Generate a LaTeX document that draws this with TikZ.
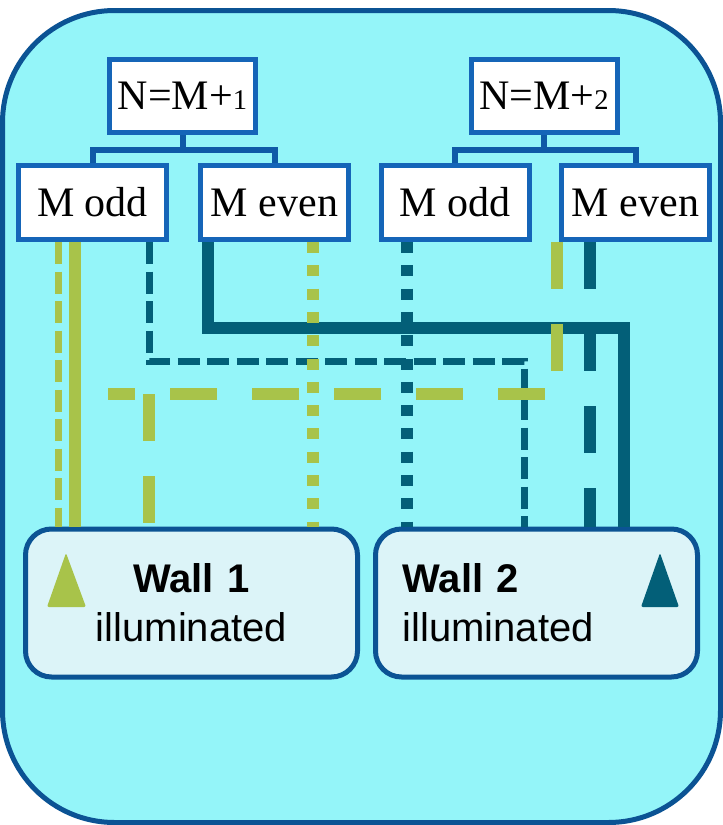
\documentclass[tikz,border=0pt]{standalone}
\usepackage{fontspec}
\setmainfont{Liberation Serif}
\setsansfont{Liberation Sans}
\usepackage{graphicx}
\usepackage{xcolor}

\definecolor{panel}{HTML}{94F5F9}
\definecolor{panelrim}{HTML}{0B5394}
\definecolor{boxrim}{HTML}{1565B8}
\definecolor{treeblue}{HTML}{0E5AA7}
\definecolor{wallfill}{HTML}{DCF4F8}
\definecolor{lime}{HTML}{A8C34A}
\definecolor{petrol}{HTML}{035F78}

% old-style figure: lining digit shrunk to x-height
\newcommand{\osf}[1]{\scalebox{0.68}{#1}}

\tikzset{
  casebox/.style={draw=boxrim, line width=5pt, fill=white, inner sep=0pt,
    minimum width=146pt, minimum height=73pt, font=\fontsize{42}{46}\selectfont},
  parity/.style={casebox, minimum width=148pt, minimum height=74pt},
  tree/.style={draw=treeblue, line width=6pt},
  wallbox/.style={draw=panelrim, line width=5pt, fill=wallfill, rounded corners=26pt,
    minimum height=148pt, inner xsep=27pt, inner ysep=0pt,
    font=\sffamily\fontsize{40}{49}\selectfont},
  solidline/.style={line width=12pt},
  thindash/.style={line width=7pt, dash pattern=on 22pt off 7.5pt},
  dotline/.style={line width=12pt, dash pattern=on 11pt off 12.3pt},
  longdash/.style={line width=12pt, dash pattern=on 47pt off 35pt},
}

\begin{document}
\begin{tikzpicture}[x=1pt, y=-1pt]
\useasboundingbox (0,0) rectangle (723,825);

% ---- panel -------------------------------------------------------------------
\draw[panelrim, fill=panel, line width=5pt, rounded corners=112pt]
  (2.5,10.5) rectangle (720.5,822.5);

% ---- case trees --------------------------------------------------------------
\node[casebox] (p1) at (182.5,96) {N=M+\osf{1}};
\node[casebox] (p2) at (544,96)   {N=M+\osf{2}};

\node[parity] (c1) at (92.5,202.5)  {M odd};
\node[parity] (c2) at (274.5,202.5) {M even};
\node[parity] (c3) at (455,202.5)   {M odd};
\node[parity] (c4) at (635.5,202.5) {M even};

\path (p1.south) ++(0,14.5) coordinate (b1);
\path (p2.south) ++(0,14.5) coordinate (b2);
\draw[tree] (p1.south) -- (b1);
\draw[tree] (c1.north) |- (b1) -| (c2.north);
\draw[tree] (p2.south) -- (b2);
\draw[tree] (c3.north) |- (b2) -| (c4.north);

% ---- walls -------------------------------------------------------------------
\node[wallbox, minimum width=332pt, text width=278pt, align=center]
  (wall1) at (191.5,603) {\textbf{Wall 1}\\illuminated};
\node[wallbox, minimum width=322pt, text width=268pt, align=left]
  (wall2) at (536.5,603) {\textbf{Wall 2}\\illuminated};

\fill[lime, rounded corners=2pt]   (47,607) -- (66,553) -- (86,607) -- cycle;
\fill[petrol, rounded corners=2pt] (641,607) -- (660,553) -- (679,607) -- cycle;

% ---- paths to the walls --------------------------------------------------------
% N=M+1, M odd
\draw[lime, thindash] ([xshift=-34.5]c1.south) coordinate (a1) -- (a1 |- wall1.north);
\draw[lime, solidline] ([xshift=-17.5]c1.south) coordinate (a2) -- (a2 |- wall1.north);
\draw[petrol, thindash] ([xshift=56.5]c1.south) -- ++(0,119) -| ([xshift=-12.5]wall2.north);

% N=M+1, M even
\draw[petrol, solidline] ([xshift=-66.5]c2.south) -- ++(0,86) -| ([xshift=87.5]wall2.north);
\draw[lime, dotline] ([xshift=38.5]c2.south) coordinate (a3) -- (a3 |- wall1.north);

% N=M+2, M odd
\draw[petrol, dotline] ([xshift=-48]c3.south) coordinate (a4) -- (a4 |- wall2.north);

% N=M+2, M even
\coordinate (gend) at (108,394);
\coordinate (gdrop) at (149,394);
\draw[lime, longdash] ([xshift=-78.5]c4.south) -- ++(0,152) -- (gend);
\draw[lime, longdash] (gdrop) -- (gdrop |- wall1.north);
\draw[petrol, longdash] ([xshift=-45.5]c4.south) coordinate (a5) -- (a5 |- wall2.north);

\end{tikzpicture}
\end{document}
